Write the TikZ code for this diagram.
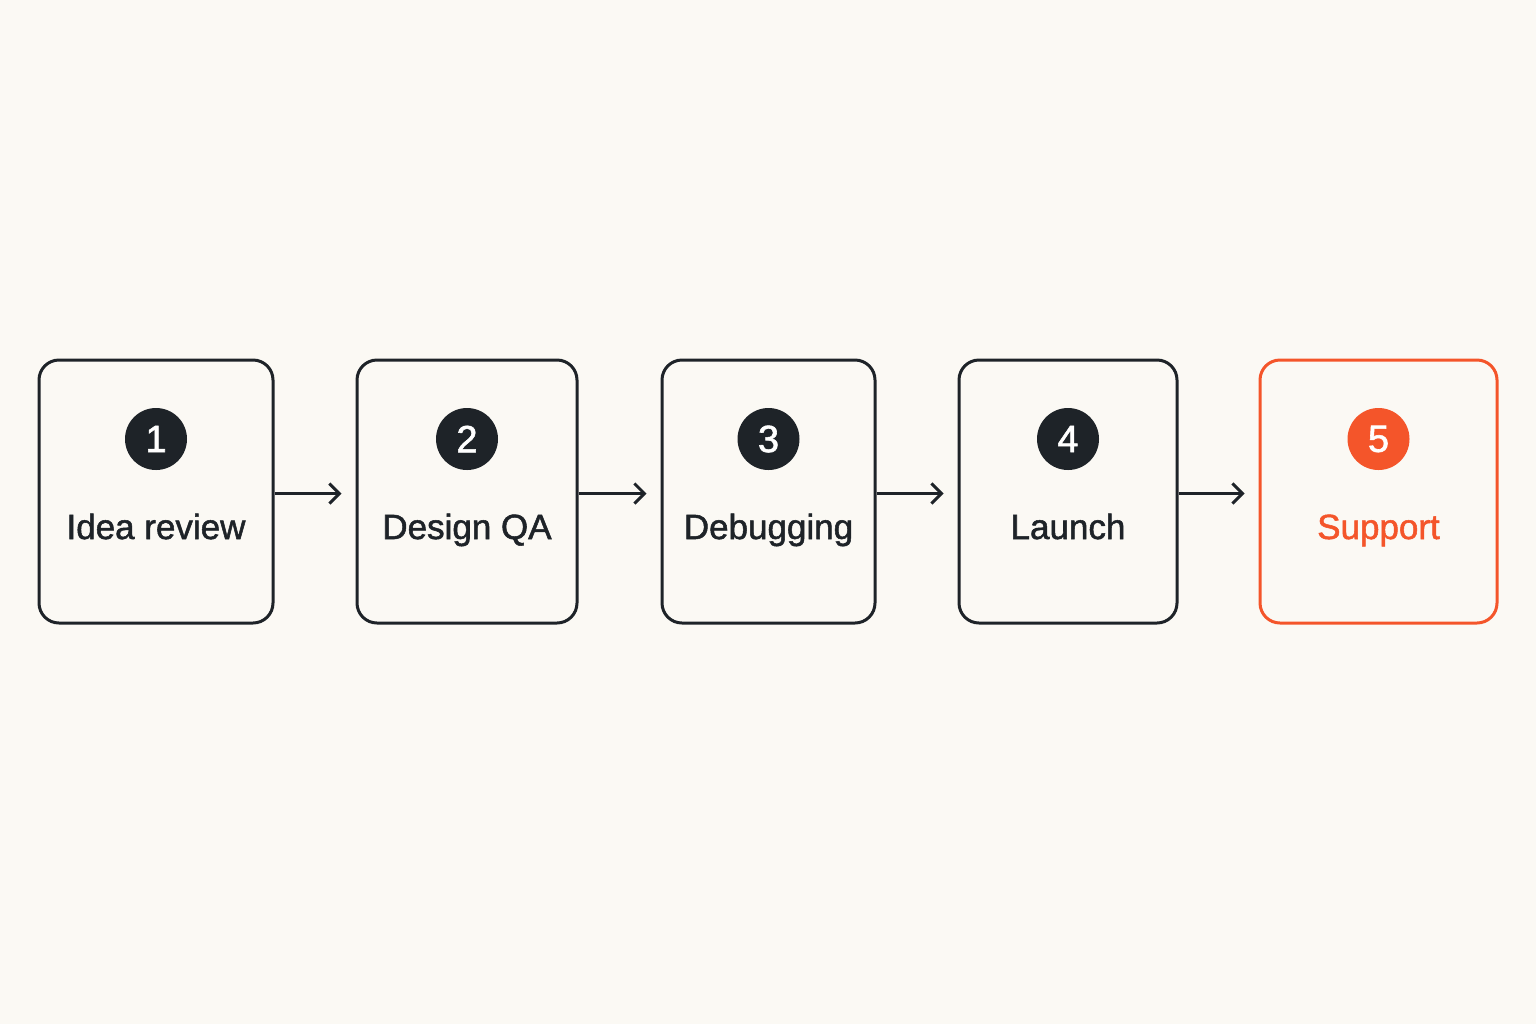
\documentclass[tikz,border=0pt]{standalone}
\usepackage{fontspec}
\setmainfont{Liberation Sans}[FakeBold=1.5]
\usetikzlibrary{arrows.meta}
\definecolor{bg}{HTML}{FBF9F4}
\definecolor{dk}{HTML}{1E2328}
\definecolor{og}{HTML}{F4552A}
\begin{document}
\begin{tikzpicture}[x=0.5pt,y=-0.5pt,
 box/.style={draw=dk,line width=1.5pt,rounded corners=10pt,inner sep=0pt},
 num/.style={circle,fill=dk,text=white,minimum size=31pt,inner sep=0pt,font=\fontsize{19}{19}\selectfont},
 lab/.style={text=dk,anchor=base,inner sep=0pt,font=\fontsize{17.5}{20}\selectfont},
 arr/.style={draw=dk,line width=1.5pt,-{Straight Barb[length=5pt,width=10pt]},shorten >=7pt}]
\fill[bg] (0,0) rectangle (1536,1024);
\useasboundingbox (0,0) rectangle (1536,1024);
\foreach \n/\a/\b/\t/\c in {1/39/273/Idea review/dk,2/357/577/Design QA/dk,3/662/875/Debugging/dk,4/959/1177/Launch/dk,5/1260/1497/Support/og}{
  \node[box,draw=\c,minimum width={(\b-\a)*0.5pt},minimum height=131.5pt] (b\n) at ({(\a+\b)/2},491.5) {};
  \node[num,fill=\c] (n\n) at ({(\a+\b)/2},439) {\n};
  \node[lab,text=\c] (l\n) at ({(\a+\b)/2},539) {\t};
}
\foreach \i/\j in {1/2,2/3,3/4,4/5}{
  \draw[arr] ([yshift=-1pt]b\i.east) -- ([yshift=-1pt]b\j.west);
}
\end{tikzpicture}
\end{document}
